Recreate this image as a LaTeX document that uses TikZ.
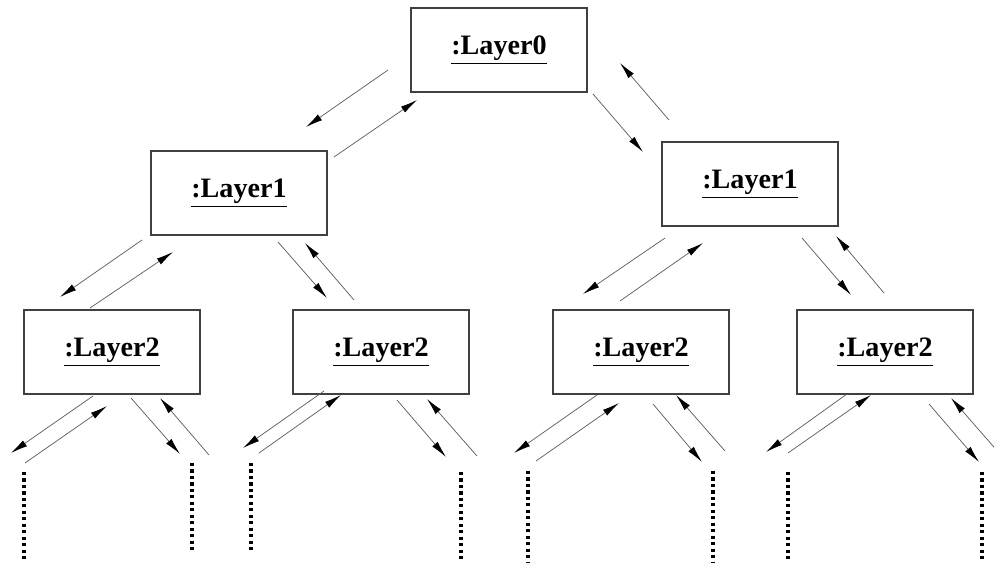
\documentclass[tikz,border=0pt]{standalone}
\usepackage{fontspec}
\setmainfont{Liberation Serif}
\usetikzlibrary{arrows.meta}
\begin{document}
\begin{tikzpicture}[>={Latex[length=12pt,width=5pt,color=black]}, x=0.025cm, y=-0.025cm,
    layer/.style={draw=black!75, line width=0.8pt, minimum width=4.4cm, minimum height=2.1cm,
        font=\fontsize{20}{22}\selectfont\bfseries},
    msg/.style={->, draw=black!65, line width=0.5pt},
    more/.style={line width=2.8pt, dash pattern=on 2.2pt off 2.4pt}]
\clip (0,0) rectangle (994,564);
\node[layer] (l0) at (499,50) {\underline{:Layer0}};
\node[layer] (l1l) at (239,193) {\underline{:Layer1}};
\node[layer] (l1r) at (750,184) {\underline{:Layer1}};
\node[layer] (l2a) at (112,352) {\underline{:Layer2}};
\node[layer] (l2b) at (381,352) {\underline{:Layer2}};
\node[layer] (l2c) at (641,352) {\underline{:Layer2}};
\node[layer] (l2d) at (885,352) {\underline{:Layer2}};
% top level
\draw[msg]([shift={(-111,20)}]l0.center)--([shift={(67,-66)}]l1l.center);
\draw[msg]([shift={(95,-36)}]l1l.center)--([shift={(-82,50)}]l0.center);
\draw[msg]([shift={(94,44)}]l0.center)--([shift={(-107,-32)}]l1r.center);
\draw[msg]([shift={(-81,-64)}]l1r.center)--([shift={(121,13)}]l0.center);
% second level
\draw[msg]([shift={(-97,47)}]l1l.center)--([shift={(-52,-55)}]l2a.center);
\draw[msg]([shift={(-22,-44)}]l2a.center)--([shift={(-66,59)}]l1l.center);
\draw[msg]([shift={(39,49)}]l1l.center)--([shift={(-54,-54)}]l2b.center);
\draw[msg]([shift={(-27,-52)}]l2b.center)--([shift={(66,50)}]l1l.center);
\draw[msg]([shift={(-85,54)}]l1r.center)--([shift={(-58,-58)}]l2c.center);
\draw[msg]([shift={(-21,-51)}]l2c.center)--([shift={(-47,59)}]l1r.center);
\draw[msg]([shift={(52,54)}]l1r.center)--([shift={(-34,-57)}]l2d.center);
\draw[msg]([shift={(-1,-59)}]l2d.center)--([shift={(86,52)}]l1r.center);
% third level, to the open ends
\draw[msg]([shift={(-19,44)}]l2a.center)--([shift={(-101,101)}]l2a.center);
\draw[msg]([shift={(-87,111)}]l2a.center)--([shift={(-5,54)}]l2a.center);
\draw[msg]([shift={(19,46)}]l2a.center)--([shift={(68,102)}]l2a.center);
\draw[msg]([shift={(97,103)}]l2a.center)--([shift={(48,46)}]l2a.center);
\draw[msg]([shift={(-57,39)}]l2b.center)--([shift={(-138,96)}]l2b.center);
\draw[msg]([shift={(-122,101)}]l2b.center)--([shift={(-40,43)}]l2b.center);
\draw[msg]([shift={(16,48)}]l2b.center)--([shift={(65,105)}]l2b.center);
\draw[msg]([shift={(96,104)}]l2b.center)--([shift={(46,47)}]l2b.center);
\draw[msg]([shift={(-44,43)}]l2c.center)--([shift={(-127,101)}]l2c.center);
\draw[msg]([shift={(-105,109)}]l2c.center)--([shift={(-22,51)}]l2c.center);
\draw[msg]([shift={(12,52)}]l2c.center)--([shift={(61,110)}]l2c.center);
\draw[msg]([shift={(84,99)}]l2c.center)--([shift={(35,43)}]l2c.center);
\draw[msg]([shift={(-38,42)}]l2d.center)--([shift={(-119,100)}]l2d.center);
\draw[msg]([shift={(-97,101)}]l2d.center)--([shift={(-14,43)}]l2d.center);
\draw[msg]([shift={(44,52)}]l2d.center)--([shift={(94,110)}]l2d.center);
\draw[msg]([shift={(115,102)}]l2d.center)--([shift={(66,46)}]l2d.center);
% the tree goes on below
\foreach \x/\ya/\yb in {24/472/562, 192/463/552, 251/463/552, 461/472/561,
                        528/471/562, 713/471/562, 788/472/561, 982/472/561}
{
    \draw[more](\x,\ya)--(\x,\yb);
}
\end{tikzpicture}
\end{document}
